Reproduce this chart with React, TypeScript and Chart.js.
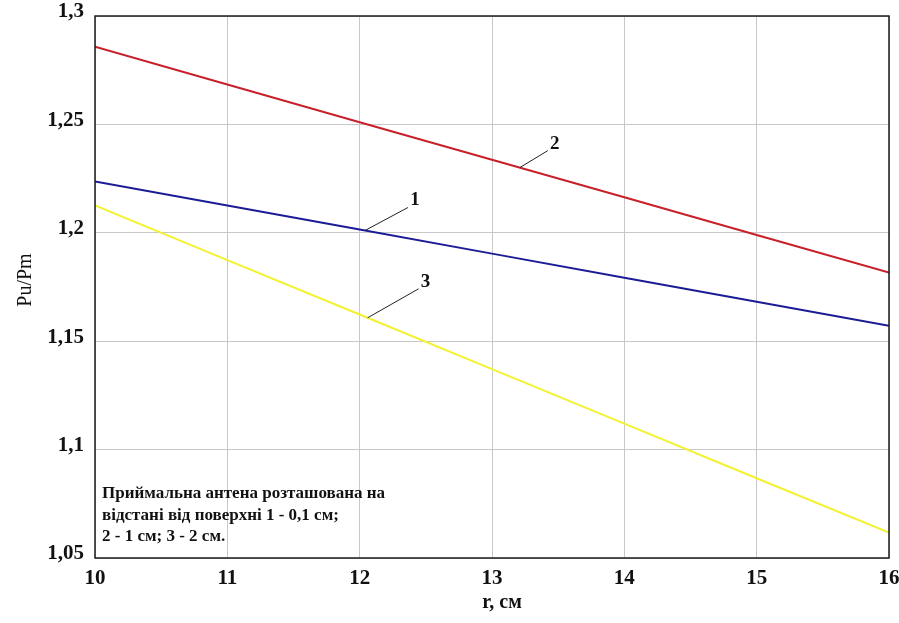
import React, { useEffect, useRef } from "react";
import { Chart, registerables } from "chart.js";

Chart.register(...registerables);

// Distance r (cm) and power ratio Pu/Pm for the three receiver positions
const radii = [10, 11, 12, 13, 14, 15, 16];
const ratio1 = [1.2237, 1.2126, 1.2015, 1.1904, 1.1793, 1.1682, 1.1571];
const ratio2 = [1.2858, 1.2684, 1.251, 1.2337, 1.2164, 1.199, 1.1817];
const ratio3 = [1.2126, 1.1874, 1.1623, 1.1371, 1.112, 1.0868, 1.0617];

const curveNames = ["1", "2", "3"];
const curveColors = ["#1c1c96", "#c8202a", "#f2f230"];
// x position (cm) where each curve's callout leader starts
const leaderAt = [12.04, 13.21, 12.06];

const xTicks = [10, 11, 12, 13, 14, 15, 16];
const yTicks = [1.05, 1.1, 1.15, 1.2, 1.25, 1.3];

const xTitle = "r, см";
const yTitle = "Pu/Pm";
const noteLines = [
  "Приймальна антена розташована на",
  "відстані від поверхні 1 - 0,1 см;",
  "2 - 1 см; 3 - 2 см.",
];

const SERIF = "'Liberation Serif', 'Times New Roman', serif";

const series = [ratio1, ratio2, ratio3];

function valueAt(values: number[], x: number): number {
  for (let i = 0; i < radii.length - 1; i++) {
    if (x >= radii[i] && x <= radii[i + 1]) {
      const t = (x - radii[i]) / (radii[i + 1] - radii[i]);
      return values[i] + t * (values[i + 1] - values[i]);
    }
  }
  return values[values.length - 1];
}

const decorPlugin = {
  id: "decor",
  afterDraw(chart: any) {
    const { ctx, chartArea, scales } = chart;
    const xs = scales.x;
    const ys = scales.y;
    ctx.save();

    // frame around the plot area
    ctx.strokeStyle = "#1a1a1a";
    ctx.lineWidth = 1.5;
    ctx.strokeRect(
      chartArea.left,
      chartArea.top,
      chartArea.right - chartArea.left,
      chartArea.bottom - chartArea.top
    );

    // curve callouts
    const leaderOffsets = [
      [43, -23],
      [28, -17],
      [51, -29],
    ];
    ctx.strokeStyle = "#222";
    ctx.lineWidth = 1;
    ctx.fillStyle = "#111";
    ctx.font = `bold 19px ${SERIF}`;
    ctx.textAlign = "center";
    ctx.textBaseline = "middle";
    series.forEach((vals, i) => {
      const px = xs.getPixelForValue(leaderAt[i]);
      const py = ys.getPixelForValue(valueAt(vals, leaderAt[i]));
      const ex = px + leaderOffsets[i][0];
      const ey = py + leaderOffsets[i][1];
      ctx.beginPath();
      ctx.moveTo(px, py);
      ctx.lineTo(ex, ey);
      ctx.stroke();
      ctx.fillText(curveNames[i], ex + 7, ey - 7);
    });

    // note in the lower-left corner
    ctx.textAlign = "left";
    ctx.textBaseline = "alphabetic";
    ctx.font = `bold 17px ${SERIF}`;
    noteLines.forEach((line, i) => {
      ctx.fillText(line, chartArea.left + 7, chartArea.bottom - 60 + i * 21.5);
    });

    // axis titles
    ctx.textAlign = "center";
    ctx.textBaseline = "middle";
    ctx.font = `bold 20px ${SERIF}`;
    ctx.fillText(xTitle, 502, 603);

    ctx.font = `20px ${SERIF}`;
    ctx.translate(26, 280);
    ctx.rotate(-Math.PI / 2);
    ctx.fillText(yTitle, 0, 0);
    ctx.restore();
  },
};

export default function App() {
  const canvasRef = useRef<HTMLCanvasElement | null>(null);

  useEffect(() => {
    document.body.style.margin = "0";
    const canvas = canvasRef.current;
    if (!canvas) return;

    const chart = new Chart(canvas, {
      type: "line",
      data: {
        datasets: series.map((vals, i) => ({
          label: curveNames[i],
          data: radii.map((r, j) => ({ x: r, y: vals[j] })),
          borderColor: curveColors[i],
          borderWidth: 2,
          pointRadius: 0,
          tension: 0,
          fill: false,
        })),
      },
      options: {
        responsive: false,
        animation: false,
        devicePixelRatio: 1,
        layout: { padding: { top: 16, right: 10, left: 0, bottom: 0 } },
        plugins: {
          legend: { display: false },
          tooltip: { enabled: false },
        },
        scales: {
          x: {
            type: "linear",
            min: 10,
            max: 16,
            afterBuildTicks: (scale: any) => {
              scale.ticks = xTicks.map((v) => ({ value: v }));
            },
            afterFit: (scale: any) => {
              scale.height = 65;
              scale.paddingLeft = 0;
              scale.paddingRight = 0;
            },
            grid: { color: "#c8c8c8", lineWidth: 1, drawTicks: false },
            border: { display: false },
            ticks: {
              padding: 8,
              color: "#111",
              font: { family: SERIF, size: 21, weight: "bold" },
              callback: (v: any) => String(v),
            },
          },
          y: {
            type: "linear",
            min: 1.05,
            max: 1.3,
            afterBuildTicks: (scale: any) => {
              scale.ticks = yTicks.map((v) => ({ value: v }));
            },
            afterFit: (scale: any) => {
              scale.width = 95;
              scale.paddingTop = 0;
              scale.paddingBottom = 0;
            },
            grid: { color: "#c8c8c8", lineWidth: 1, drawTicks: false },
            border: { display: false },
            ticks: {
              padding: 11,
              labelOffset: -4,
              color: "#111",
              font: { family: SERIF, size: 21, weight: "bold" },
              callback: (v: any) => String(v).replace(".", ","),
            },
          },
        },
      },
      plugins: [decorPlugin],
    });

    return () => chart.destroy();
  }, []);

  return (
    <div style={{ width: 899, height: 623, background: "#fff" }}>
      <canvas ref={canvasRef} width={899} height={623} />
    </div>
  );
}
